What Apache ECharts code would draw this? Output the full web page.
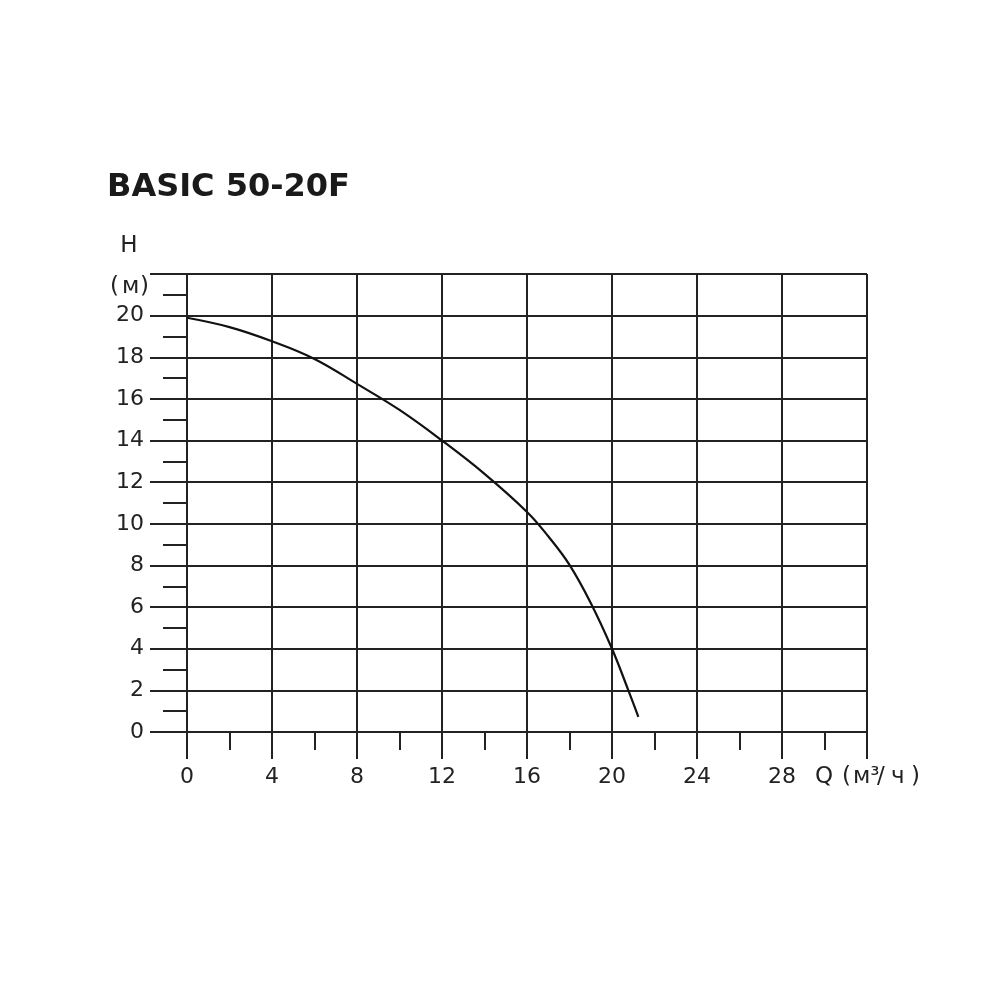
<!DOCTYPE html>
<html><head><meta charset="utf-8">
<script src="https://cdn.jsdelivr.net/npm/echarts@6/dist/echarts.min.js"></script>
<style>html,body{margin:0;padding:0;background:#fff}#c{width:1000px;height:1000px}</style>
</head><body><div id="c"></div>
<script>
const flowQ = [0, 2, 4, 6, 8, 10, 12, 14, 16, 17, 18, 19, 20, 20.77, 21.24];
const headH = [19.9, 19.45, 18.77, 17.92, 16.72, 15.47, 14.0, 12.4, 10.57, 9.4, 8.03, 6.2, 4.0, 2.0, 0.73];
const xTicks = [0, 4, 8, 12, 16, 20, 24, 28];
const yTicks = [0, 2, 4, 6, 8, 10, 12, 14, 16, 18, 20];
const titleText = 'BASIC 50-20F';
const yName = ['H', '(', 'м', ')'];
const xName = ['Q', '(', 'м³', '/', 'ч', ')'];

const ink = '#222';
const font = 'DejaVu Sans';
const chart = echarts.init(document.getElementById('c'));
const txt = (t, x, y, align) => ({type: 'text', x: x, y: y, style: {text: t, font: '23px "DejaVu Sans"', fill: ink, align: align || 'left', verticalAlign: 'middle'}});
chart.setOption({
  animation: false,
  backgroundColor: '#fff',
  grid: {left: 187, top: 274, right: 133, bottom: 268, containLabel: false},
  xAxis: {
    type: 'value', min: 0, max: 32, interval: 4,
    axisLine: {show: true, lineStyle: {color: ink, width: 2}},
    axisTick: {show: true, length: 27, lineStyle: {color: ink, width: 2}},
    minorTick: {show: true, splitNumber: 2, length: 18, lineStyle: {color: ink, width: 2}},
    splitLine: {show: true, lineStyle: {color: ink, width: 2}},
    axisLabel: {
      margin: 34, color: ink, fontFamily: font, fontSize: 22,
      formatter: v => xTicks.includes(v) ? String(v) : ''
    }
  },
  yAxis: {
    type: 'value', min: 0, max: 22, interval: 2,
    axisLine: {show: true, lineStyle: {color: ink, width: 2}},
    axisTick: {show: true, length: 37, lineStyle: {color: ink, width: 2}},
    minorTick: {show: true, splitNumber: 2, length: 24, lineStyle: {color: ink, width: 2}},
    splitLine: {show: true, lineStyle: {color: ink, width: 2}},
    axisLabel: {
      margin: 43, color: ink, fontFamily: font, fontSize: 22,
      formatter: v => yTicks.includes(v) ? String(v) : ''
    }
  },
  series: [{
    type: 'line',
    data: flowQ.map((q, i) => [q, headH[i]]),
    smooth: 0.4,
    symbol: 'none',
    lineStyle: {color: '#111', width: 2.2}
  }],
  graphic: [
    {type: 'text', left: 107, top: 172, style: {text: titleText, font: 'bold 32px "DejaVu Sans"', fill: '#1a1a1a'}},
    txt(yName[0], 129, 246, 'center'),
    txt(yName[1], 110, 287),
    txt(yName[2], 122, 287),
    txt(yName[3], 140, 287),
    txt(xName[0], 815, 777),
    txt(xName[1], 842, 777),
    txt(xName[2], 853, 777),
    txt(xName[3], 877, 777),
    txt(xName[4], 891, 777),
    txt(xName[5], 911, 777)
  ]
});
</script></body></html>
